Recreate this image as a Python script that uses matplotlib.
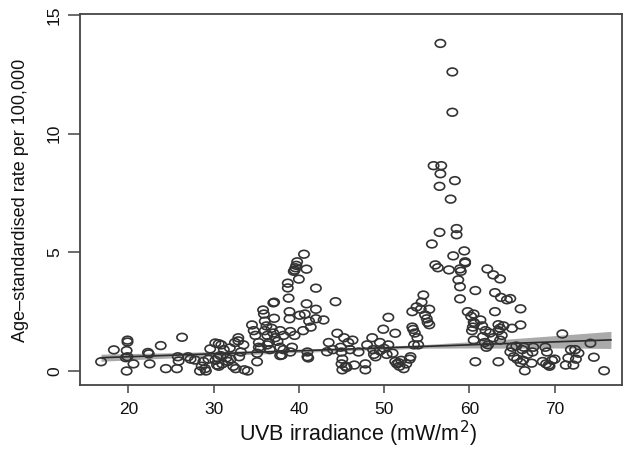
import numpy as np
import matplotlib
matplotlib.use("Agg")
import matplotlib.pyplot as plt
from matplotlib.path import Path

plt.rcParams['font.family'] = ['Liberation Sans', 'DejaVu Sans']

# scatter data (UVB irradiance, rate per 100,000)
uvb = [
    16.8, 18.3, 19.9, 19.9, 19.8, 19.7, 19.9, 19.8, 20.6, 22.3, 22.4, 22.5, 23.8, 24.4,
    25.7, 25.8, 26.3, 25.9, 27.0, 27.3, 27.8, 28.4, 29.1, 28.8, 29.4, 29.6, 28.6, 29.0,
    30.2, 30.4, 30.5, 30.6, 30.9, 30.6, 30.2, 30.8, 31.2, 31.5, 31.7, 31.9, 32.5, 32.9,
    32.9, 32.3, 32.6, 33.0, 33.2, 33.5, 33.6, 34.0, 34.5, 34.7, 34.9, 32.0, 31.0,
    35.1, 35.3, 35.3, 35.1, 35.5, 35.8, 35.9, 36.0, 36.2, 36.3, 36.0, 36.3, 36.6, 36.5,
    36.8, 37.0, 37.0, 37.1, 37.1, 37.2, 37.5, 37.8, 37.8, 37.8, 38.0, 38.2, 38.2, 38.7,
    38.7, 38.8, 38.9, 38.9, 39.0, 39.4, 39.5, 39.6, 39.7, 39.8, 39.5, 39.2, 39.0,
    40.0, 40.1, 40.6, 40.5, 40.7, 40.9, 40.9, 41.0, 41.0, 41.1, 41.4, 41.2, 42.0, 42.0,
    42.0, 42.9, 43.3, 44.3, 44.5, 44.9, 45.0, 45.1, 45.0, 45.1, 43.5, 44.0,
    45.3, 45.8, 46.3, 46.0, 45.5, 45.6, 46.5, 47.0, 47.8, 47.8, 48.0, 48.6, 48.7, 48.8,
    49.0, 49.5, 49.9, 50.0, 50.3, 50.5, 50.5, 49.5,
    51.0, 51.3, 51.3, 51.5, 51.7, 51.8, 52.0, 52.3, 52.6, 53.0, 53.1, 53.3, 53.4, 53.5,
    53.6, 53.9, 54.0, 53.3, 53.8, 54.3, 54.6, 54.8, 55.0, 55.1, 55.3, 55.3, 54.4,
    55.6, 55.8, 56.0, 56.3, 56.5, 56.5, 56.6, 56.6, 56.7, 57.6, 57.8, 58.0, 58.0, 58.1,
    58.3, 58.5, 58.5, 58.7, 58.9, 58.9, 59.0, 58.9, 59.4, 59.5, 59.5, 59.8, 60.2, 60.5,
    60.3, 60.5, 60.7, 60.7, 60.5, 60.6, 60.4, 61.3, 61.5, 61.9, 61.6, 61.8, 62.0, 62.2,
    62.1, 62.8, 63.6, 63.0, 63.7, 64.4, 64.8, 63.0, 63.4, 63.6, 64.0, 65.0, 62.4, 62.8,
    63.4, 63.8, 63.6, 63.4, 64.8, 65.0,
    65.2, 65.5, 65.6, 66.0, 66.0, 66.2, 66.5, 66.0, 66.3, 66.4, 66.8, 67.3, 67.4, 67.5,
    68.9, 69.1, 68.6, 69.0, 69.3, 69.7, 69.4, 70.0,
    70.9, 71.6, 71.9, 71.3, 72.2, 72.4, 72.8, 72.5, 74.2, 74.6, 75.8,
]
rate = [
    0.39, 0.89, 1.30, 1.22, 0.86, 0.56, 0.60, 0.00, 0.30, 0.78, 0.72, 0.30, 1.07, 0.10,
    0.10, 0.60, 1.42, 0.42, 0.60, 0.50, 0.46, 0.00, 0.00, 0.40, 0.50, 0.93, 0.20, 0.10,
    1.18, 0.25, 0.55, 0.20, 1.10, 1.15, 0.45, 0.65, 0.90, 0.55, 0.40, 0.97, 1.20, 1.40,
    1.27, 0.20, 0.10, 0.60, 0.80, 1.10, 0.05, 0.00, 1.94, 1.70, 1.50, 0.50, 0.30,
    0.39, 1.00, 1.20, 0.75, 0.95, 2.57, 2.40, 2.10, 1.90, 1.50, 1.70, 1.10, 0.90, 1.20,
    1.80, 1.60, 2.87, 2.90, 2.22, 1.40, 1.25, 1.70, 1.00, 0.65, 0.67, 1.50, 0.90, 3.50,
    3.70, 3.07, 2.50, 2.20, 1.66, 4.20, 4.25, 4.35, 4.45, 4.60, 1.50, 1.00, 0.80,
    3.87, 2.35, 4.92, 1.70, 2.40, 4.29, 2.83, 0.60, 0.80, 0.55, 1.85, 2.10, 3.49, 2.60,
    2.20, 2.15, 0.81, 2.92, 1.59, 1.00, 0.80, 0.50, 0.30, 0.05, 1.20, 0.90,
    1.40, 1.20, 1.30, 0.90, 0.20, 0.15, 0.25, 0.80, 0.30, 0.05, 1.10, 1.40, 0.90, 0.70,
    0.60, 0.85, 1.76, 0.95, 0.70, 2.26, 1.10, 1.20,
    0.75, 1.59, 0.40, 0.30, 0.35, 0.20, 0.45, 0.10, 0.30, 0.50, 0.60, 1.85, 1.75, 1.10,
    1.60, 1.40, 1.10, 2.50, 2.70, 2.60, 3.20, 2.36, 2.20, 2.05, 1.95, 2.60, 2.90,
    5.35, 8.65, 4.47, 4.35, 5.84, 7.78, 13.80, 8.31, 8.65, 4.26, 7.24, 12.60, 10.90, 4.85,
    8.02, 5.74, 6.00, 3.84, 3.55, 4.30, 4.20, 3.04, 5.06, 4.60, 4.55, 2.50, 2.30, 2.05,
    1.70, 1.30, 0.39, 3.39, 2.40, 2.00, 1.85, 2.15, 1.90, 1.70, 1.45, 1.20, 1.00, 1.10,
    4.30, 4.05, 3.88, 3.30, 3.10, 3.00, 3.05, 2.50, 1.95, 1.80, 1.90, 1.80, 1.60, 1.40,
    1.70, 1.50, 1.30, 0.39, 0.80, 1.00,
    0.60, 1.05, 0.50, 2.62, 1.94, 0.90, 0.01, 0.35, 0.45, 1.00, 0.70, 0.33, 0.80, 1.00,
    1.00, 0.80, 0.40, 0.30, 0.25, 0.45, 0.20, 0.50,
    1.56, 0.55, 0.90, 0.25, 0.25, 0.90, 0.75, 0.50, 1.17, 0.58, 0.01,
]

# fitted line and its confidence band
fit_x = [16.8, 76.6]
fit_y = [0.56, 1.31]
band_x = [16.8, 25, 35, 45, 55, 60, 65, 70, 76.6]
band_lo = [0.41, 0.55, 0.71, 0.85, 0.96, 0.97, 0.96, 0.97, 0.95]
band_hi = [0.71, 0.77, 0.87, 0.97, 1.12, 1.23, 1.36, 1.49, 1.67]

x_ticks = [20, 30, 40, 50, 60, 70]
y_ticks = [0, 5, 10, 15]

fig = plt.figure(figsize=(6.24, 4.5), dpi=100)
ax = fig.add_axes([80/624, 1 - 385/450, 542/624, 371/450])

# slightly flattened circle, like the original
circ = Path.unit_circle()
ell = Path(circ.vertices * [1, 0.75], circ.codes)

ax.fill_between(band_x, band_lo, band_hi, color='#aaaaaa', lw=0, zorder=1)
ax.plot(fit_x, fit_y, color='#2a2a2a', lw=1.2, zorder=2)
ax.scatter(uvb, rate, marker=ell, s=55, facecolors='none',
           edgecolors='#333333', linewidths=1.2, zorder=3)

ax.set_xlim(14.33, 77.9)
ax.set_ylim(-0.59, 15.04)
ax.set_xticks(x_ticks)
ax.set_yticks(y_ticks)
for s in ax.spines.values():
    s.set_color('#444444')
    s.set_linewidth(1.3)
ax.tick_params(axis='x', length=6, width=1.1, color='#444444', pad=6, labelsize=12.5)
ax.tick_params(axis='y', length=9, width=1.1, color='#444444', pad=4, labelsize=12.5,
               labelrotation=90)
for lab in ax.get_yticklabels():
    lab.set_va('center')
for lab in ax.get_xticklabels() + ax.get_yticklabels():
    lab.set_color('#111111')

fig.text(358/624, 1 - 434/450, 'UVB irradiance (mW/m$^2$)', ha='center', va='center',
         fontsize=15.5, color='#111111')
fig.text(21/624, 1 - 200/450, 'Age\u2013standardised rate per 100,000', ha='center',
         va='center', rotation=90, fontsize=13, color='#111111')

fig.savefig('out.png', dpi=100)
